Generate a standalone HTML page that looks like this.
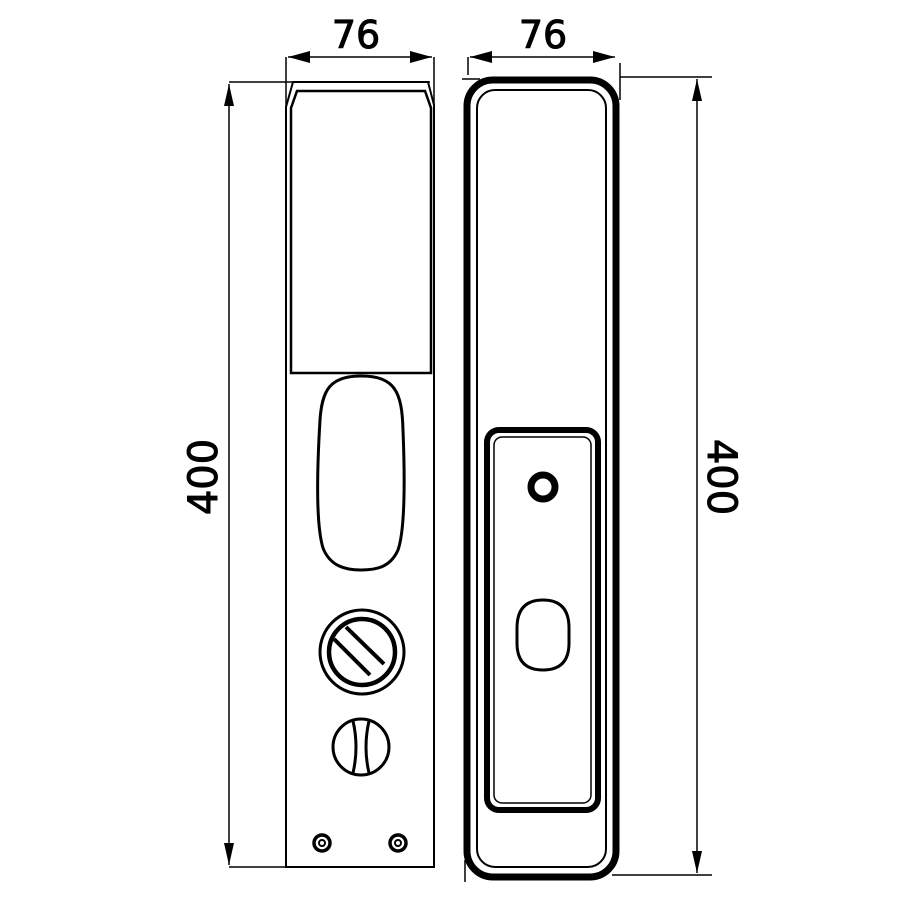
<!DOCTYPE html>
<html><head><style>html,body{margin:0;padding:0;background:#fff}svg{display:block}</style></head>
<body>
<svg width="900" height="900" viewBox="0 0 900 900" xmlns="http://www.w3.org/2000/svg" font-family="'DejaVu Sans','Liberation Sans',sans-serif">
<g stroke="#000" fill="none">
<!-- left dims -->
<line x1="286" y1="57" x2="286" y2="110" stroke-width="1.5"/>
<line x1="434" y1="57" x2="434" y2="110" stroke-width="1.5"/>
<line x1="288" y1="57" x2="432" y2="57" stroke-width="1.5"/>
<path d="M288,57 l22,-6 v12 z M432,57 l-22,-6 v12 z" fill="#000" stroke="none"/>
<line x1="229" y1="82" x2="430" y2="82" stroke-width="1.5"/>
<line x1="229" y1="867" x2="290" y2="867" stroke-width="1.5"/>
<line x1="229" y1="84" x2="229" y2="865" stroke-width="1.5"/>
<path d="M229,84 l-5,22 h10 z M229,865 l-5,-22 h10 z" fill="#000" stroke="none"/>
<!-- left panel -->
<path d="M293,82 L428,82 L434,105 L434,867 L286,867 L286,107 Z" stroke-width="2"/>
<path d="M297,91 L425,91 L431,108 L431,373 L291,373 L291,108 Z" stroke-width="2.5"/>
<path d="M361,376 C395,376 402,392 403,430 C405,480 405,530 398,550 C390,568 375,570 361,570 C345,570 330,566 323,548 C316,525 317,470 320,420 C322,390 330,376 361,376 Z" stroke-width="3"/>
<circle cx="362" cy="652" r="42" stroke-width="3"/>
<circle cx="362" cy="652" r="33" stroke-width="4.5"/>
<line x1="334" y1="639" x2="370" y2="675" stroke-width="4"/>
<line x1="346" y1="627" x2="384" y2="664" stroke-width="4"/>
<circle cx="361" cy="747" r="28" stroke-width="3"/>
<path d="M353,721 Q359,747 353,773 M369,721 Q363,747 369,773" stroke-width="3"/>
<circle cx="322" cy="843" r="8" stroke-width="3.5"/><circle cx="322" cy="843" r="3" stroke-width="2"/>
<circle cx="398" cy="843" r="8" stroke-width="3.5"/><circle cx="398" cy="843" r="3" stroke-width="2"/>
<!-- right dims -->
<line x1="468" y1="57" x2="468" y2="75" stroke-width="1.5"/>
<line x1="470" y1="57" x2="615" y2="57" stroke-width="1.5"/>
<path d="M470,57 l22,-6 v12 z M615,57 l-22,-6 v12 z" fill="#000" stroke="none"/>
<line x1="462" y1="79" x2="480" y2="79" stroke-width="1.5"/>
<line x1="620" y1="63" x2="620" y2="100" stroke-width="1.5"/>
<line x1="620" y1="77" x2="712" y2="77" stroke-width="1.5"/>
<line x1="612" y1="875" x2="712" y2="875" stroke-width="1.5"/>
<line x1="697" y1="79" x2="697" y2="873" stroke-width="1.5"/>
<path d="M697,79 l-5,22 h10 z M697,873 l-5,-22 h10 z" fill="#000" stroke="none"/>
<line x1="465" y1="860" x2="465" y2="882" stroke-width="1.5"/>
<!-- right panel -->
<rect x="467" y="80" width="149" height="797" rx="26" stroke-width="7"/>
<rect x="477" y="90" width="129" height="777" rx="18" stroke-width="2"/>
<rect x="487" y="430" width="111" height="380" rx="12" stroke-width="6"/>
<rect x="494" y="437" width="97" height="366" rx="8" stroke-width="1.5"/>
<circle cx="543" cy="487" r="12" stroke-width="7"/>
<path d="M517,628 Q517,600 543,600 Q569,600 569,628 L569,643 Q569,670 543,670 Q517,670 517,643 Z" stroke-width="3"/>
</g>
<text x="356" y="48" font-size="38" text-anchor="middle" fill="#000" stroke="#000" stroke-width="1">76</text>
<text x="543" y="48" font-size="38" text-anchor="middle" fill="#000" stroke="#000" stroke-width="1">76</text>
<text transform="translate(217,477) rotate(-90)" font-size="40" text-anchor="middle" fill="#000" stroke="#000" stroke-width="1">400</text>
<text transform="translate(708,477) rotate(90)" font-size="40" text-anchor="middle" fill="#000" stroke="#000" stroke-width="1">400</text>
</svg>
</body></html>
